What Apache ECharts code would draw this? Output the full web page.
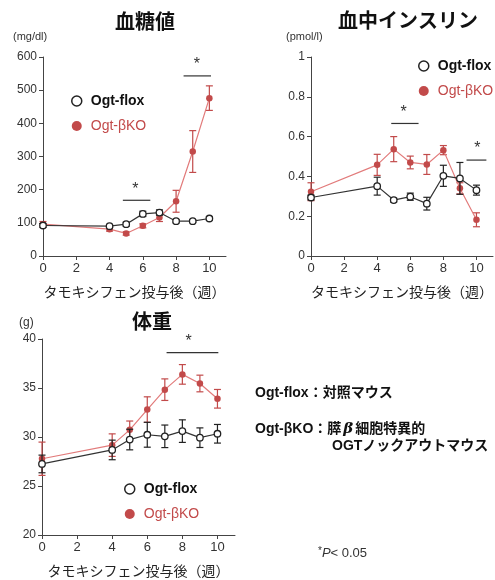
<!DOCTYPE html>
<html>
<head>
<meta charset="utf-8">
<script src="https://cdn.jsdelivr.net/npm/echarts@6/dist/echarts.min.js"></script>
<style>html,body{margin:0;padding:0;background:#fff}#c{width:495px;height:580px}</style>
</head>
<body>
<div id="c"></div>
<script>
// ---- data ----
const weeks = [0, 4, 5, 6, 7, 8, 9, 10];
const xTickValues = [0, 2, 4, 6, 8, 10];

const glucoseFlox    = [92, 90, 96, 127, 131, 105, 105, 113];
const glucoseFloxErr = [6, 5, 6, 8, 8, 5, 4, 5];
const glucoseKO      = [96, 81, 68, 91, 116, 165, 315, 476];
const glucoseKOErr   = [8, 6, 5, 6, 12, 33, 63, 37];

const insulinFlox    = [0.294, 0.351, 0.281, 0.298, 0.263, 0.403, 0.390, 0.331];
const insulinFloxErr = [0.012, 0.045, 0.010, 0.018, 0.032, 0.053, 0.080, 0.025];
const insulinKO      = [0.323, 0.458, 0.537, 0.470, 0.460, 0.532, 0.340, 0.182];
const insulinKOErr   = [0.045, 0.053, 0.063, 0.032, 0.050, 0.023, 0.028, 0.035];

const weightFlox    = [27.25, 28.68, 29.74, 30.23, 30.07, 30.60, 29.93, 30.33];
const weightFloxErr = [0.90, 1.00, 1.05, 1.27, 1.15, 1.15, 1.00, 0.95];
const weightKO      = [27.78, 29.17, 30.73, 32.80, 34.83, 36.39, 35.46, 33.90];
const weightKOErr   = [1.70, 1.15, 0.90, 1.30, 1.10, 1.00, 0.85, 0.95];

// significance bars: [xStart, xEnd, y, starX]
const sigGlucose = [[4.8, 6.45, 168, 5.55], [8.45, 10.1, 543, 9.25]];
const sigInsulin = [[4.85, 6.5, 0.666, 5.6], [9.4, 10.6, 0.482, 10.05]];
const sigWeight  = [[7.1, 10.05, 38.6, 8.35]];

const names = ['Ogt-flox', 'Ogt-βKO'];
const titles = ['血糖値', '血中インスリン', '体重'];
const units = ['(mg/dl)', '(pmol/l)', '(g)'];
const xName = 'タモキシフェン投与後（週）';

// ---- styles ----
const FONT = '"Liberation Sans", Arial, "Noto Sans CJK JP", sans-serif';
const BLACK = '#222';
const RED = '#c24a4a';
const RED_LINE = '#e27b7b';
const AXIS = '#444';

const chart = echarts.init(document.getElementById('c'), null, {renderer: 'canvas'});

function zip(ys) { return weeks.map((w, i) => [w, ys[i]]); }
function errData(ys, es) { return weeks.map((w, i) => [w, ys[i] - es[i], ys[i] + es[i]]); }

function errSeries(idx, ys, es, color, z) {
  return {
    type: 'custom', xAxisIndex: idx, yAxisIndex: idx, z: z, silent: true,
    data: errData(ys, es),
    encode: {x: 0, y: [1, 2]},
    renderItem: function (params, api) {
      const x = api.value(0);
      const lo = api.coord([x, api.value(1)]);
      const hi = api.coord([x, api.value(2)]);
      const w = 3.5;
      const st = {stroke: color, lineWidth: 1.2};
      return {type: 'group', children: [
        {type: 'line', shape: {x1: lo[0], y1: lo[1], x2: hi[0], y2: hi[1]}, style: st},
        {type: 'line', shape: {x1: lo[0] - w, y1: lo[1], x2: lo[0] + w, y2: lo[1]}, style: st},
        {type: 'line', shape: {x1: hi[0] - w, y1: hi[1], x2: hi[0] + w, y2: hi[1]}, style: st}
      ]};
    }
  };
}

function sigSeries(idx, sig) {
  return {
    type: 'custom', xAxisIndex: idx, yAxisIndex: idx, z: 10, silent: true, clip: false,
    data: sig,
    encode: {x: [0, 1], y: 2},
    renderItem: function (params, api) {
      const a = api.coord([api.value(0), api.value(2)]);
      const b = api.coord([api.value(1), api.value(2)]);
      const s = api.coord([api.value(3), api.value(2)]);
      return {type: 'group', children: [
        {type: 'line', shape: {x1: a[0], y1: a[1], x2: b[0], y2: b[1]}, style: {stroke: '#333', lineWidth: 1.2}},
        {type: 'text', x: s[0], y: a[1] - 3, style: {text: '*', fill: '#333', font: '16px ' + FONT, textAlign: 'center', textVerticalAlign: 'bottom'}}
      ]};
    }
  };
}

function lineSeries(idx, ys, isKO) {
  return {
    type: 'line', name: isKO ? names[1] : names[0],
    xAxisIndex: idx, yAxisIndex: idx,
    data: zip(ys),
    z: isKO ? 3 : 5,
    symbol: 'circle', symbolSize: 6.5,
    showAllSymbol: true,
    lineStyle: {color: isKO ? RED_LINE : '#333', width: 1.2},
    itemStyle: isKO ? {color: RED, borderColor: RED, borderWidth: 0}
                    : {color: '#fff', borderColor: BLACK, borderWidth: 1.3},
    emphasis: {disabled: true},
    animation: false
  };
}

function xAxis(idx) {
  return {
    type: 'value', gridIndex: idx, min: 0, max: 11,
    axisLine: {lineStyle: {color: AXIS, width: 1}},
    axisTick: {length: 4, lineStyle: {color: AXIS}, customValues: xTickValues},
    splitLine: {show: false},
    axisLabel: {color: '#333', fontSize: 13, fontFamily: FONT, margin: 6, customValues: xTickValues},
    name: xName, nameLocation: 'middle', nameGap: 30,
    nameTextStyle: {color: '#222', fontSize: 14, fontFamily: FONT}
  };
}

function yAxis(idx, min, max, interval) {
  return {
    type: 'value', gridIndex: idx, min: min, max: max, interval: interval,
    axisLine: {show: true, lineStyle: {color: AXIS, width: 1}},
    axisTick: {show: true, length: 4, lineStyle: {color: AXIS}},
    splitLine: {show: false},
    axisLabel: {color: '#333', fontSize: 12, fontFamily: FONT, margin: 6}
  };
}

function legend(left, top) {
  return {
    orient: 'vertical', left: left, top: top, itemGap: 11,
    itemWidth: 18, itemHeight: 10, selectedMode: false,
    data: [
      {name: names[0], icon: 'circle', itemStyle: {color: '#fff', borderColor: BLACK, borderWidth: 1.5},
       textStyle: {color: '#111', fontWeight: 'bold', fontSize: 14, fontFamily: FONT}},
      {name: names[1], icon: 'circle', itemStyle: {color: RED, borderWidth: 0},
       textStyle: {color: RED, fontWeight: 'normal', fontSize: 14, fontFamily: FONT}}
    ]
  };
}

function txt(x, y, text, size, weight, align, color) {
  return {type: 'text', x: x, y: y, style: {text: text, fill: color || '#111',
    font: (weight || 'normal') + ' ' + size + 'px ' + FONT, textAlign: align || 'left', textVerticalAlign: 'middle'}};
}

const option = {
  animation: false,
  backgroundColor: '#fff',
  grid: [
    {left: 43, top: 57, width: 183, height: 199},
    {left: 311, top: 57, width: 185, height: 199},
    {left: 42, top: 339, width: 193, height: 202}
  ],
  xAxis: [xAxis(0), xAxis(1), xAxis(2)],
  yAxis: [yAxis(0, 0, 600, 100), yAxis(1, 0, 1, 0.2), yAxis(2, 20, 40, 5)],
  legend: [legend(66, 89), legend(413, 54), legend(119, 477)],
  series: [
    errSeries(0, glucoseKO, glucoseKOErr, RED, 2),
    lineSeries(0, glucoseKO, true),
    errSeries(0, glucoseFlox, glucoseFloxErr, BLACK, 4),
    lineSeries(0, glucoseFlox, false),
    sigSeries(0, sigGlucose),

    errSeries(1, insulinKO, insulinKOErr, RED, 2),
    lineSeries(1, insulinKO, true),
    errSeries(1, insulinFlox, insulinFloxErr, BLACK, 4),
    lineSeries(1, insulinFlox, false),
    sigSeries(1, sigInsulin),

    errSeries(2, weightKO, weightKOErr, RED, 2),
    lineSeries(2, weightKO, true),
    errSeries(2, weightFlox, weightFloxErr, BLACK, 4),
    lineSeries(2, weightFlox, false),
    sigSeries(2, sigWeight)
  ],
  graphic: [
    txt(145, 23, titles[0], 20, 'bold', 'center'),
    txt(408, 22, titles[1], 20, 'bold', 'center'),
    txt(152, 323, titles[2], 20, 'bold', 'center'),
    txt(13, 37, units[0], 11, 'normal', 'left', '#333'),
    txt(286, 37, units[1], 11, 'normal', 'left', '#333'),
    txt(19, 323, units[2], 12, 'normal', 'left', '#333'),
    txt(255, 393, 'Ogt-flox：対照マウス', 14, 'bold', 'left'),
    {type: 'text', x: 255, y: 429, style: {
      text: '{a|Ogt-βKO：膵}{b|β}{a|細胞特異的}',
      textVerticalAlign: 'middle',
      rich: {
        a: {font: 'bold 14px ' + FONT, fill: '#111'},
        b: {font: 'italic bold 15px "DejaVu Serif", serif', fill: '#111', padding: [0, 2, 0, 2]}
      }
    }},
    txt(332, 446, 'OGTノックアウトマウス', 14, 'bold', 'left'),
    {type: 'text', x: 318, y: 553, style: {
      text: '{s|*}{p|P}{n|< 0.05}',
      textVerticalAlign: 'middle',
      rich: {
        s: {font: '10px ' + FONT, fill: '#333', verticalAlign: 'top'},
        p: {font: 'italic 13px ' + FONT, fill: '#333'},
        n: {font: '13px ' + FONT, fill: '#333'}
      }
    }}
  ]
};
chart.setOption(option);
</script>
</body>
</html>
